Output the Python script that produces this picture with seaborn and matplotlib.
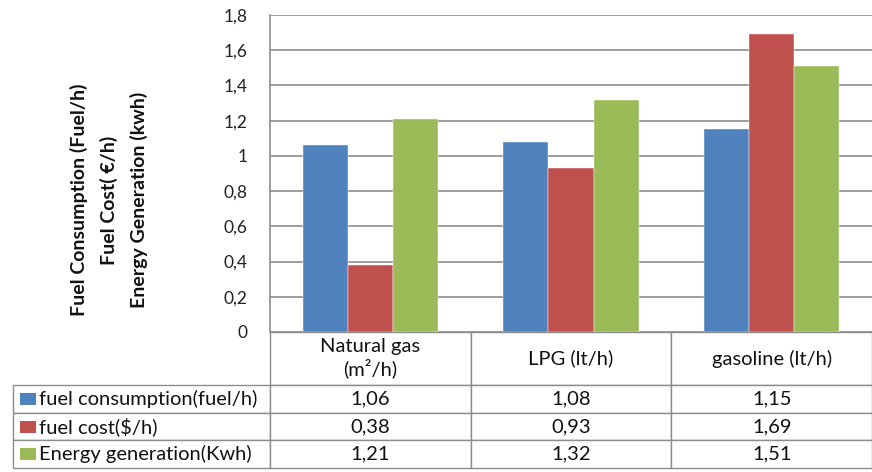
import numpy as np
import pandas as pd
import seaborn as sns
import matplotlib.pyplot as plt
from matplotlib.patches import Rectangle
from matplotlib.ticker import FuncFormatter

fuels = ['Natural gas\n(m²/h)', 'LPG (lt/h)', 'gasoline (lt/h)']
series = ['fuel consumption(fuel/h)', 'fuel cost($/h)', 'Energy generation(Kwh)']
consumption = [1.06, 1.08, 1.15]
cost = [0.38, 0.93, 1.69]
energy = [1.21, 1.32, 1.51]
colors = ['#4F81BD', '#C0504D', '#9BBB59']
yticks = [0, 0.2, 0.4, 0.6, 0.8, 1.0, 1.2, 1.4, 1.6, 1.8]

sns.set_theme(style='white')
plt.rcParams['font.family'] = ['Lato', 'DejaVu Sans']

df = pd.DataFrame({
    'fuel': fuels * 3,
    'series': np.repeat(series, 3),
    'value': consumption + cost + energy,
})

def comma(v, pos=None):
    return f'{v:g}'.replace('.', ',')

W, H = 872, 472
ax_l, ax_r, ax_t, ax_b = 270, 872, 15, 332
tab_l, tab_b = 13, 468
head_h, row_h = 53, 27.7
grid_c = '#8C8C8C'

fig = plt.figure(figsize=(W / 100, H / 100), dpi=100)
ax = fig.add_axes([ax_l / W, 1 - ax_b / H, (ax_r - ax_l) / W, (ax_b - ax_t) / H])

sns.barplot(data=df, x='fuel', y='value', hue='series', palette=colors,
            saturation=1, width=0.675, ax=ax, legend=False,
            edgecolor='white', linewidth=0.3)

ax.set_ylim(0, 1.8)
ax.set_yticks(yticks)
ax.yaxis.set_major_formatter(FuncFormatter(comma))
ax.tick_params(axis='y', labelsize=12.5, colors='#222222', length=0, pad=16)
ax.set_xticks([])
ax.set_xlabel('')
ax.set_ylabel('')
ax.grid(axis='y', color=grid_c, linewidth=1.2)
ax.set_axisbelow(True)
for side in ['top', 'right', 'bottom']:
    ax.spines[side].set_visible(False)
ax.spines['left'].set_color(grid_c)
ax.spines['left'].set_linewidth(1.2)

fig.text(109 / W, 1 - 200 / H,
         'Fuel Consumption (Fuel/h)\nFuel Cost( €/h)\nEnergy Generation (kwh)',
         rotation=90, ha='center', va='center', multialignment='center',
         fontsize=14, fontweight='bold', linespacing=1.8, color='#111111')

# data table under the plot
cell_text = [[s] + [comma(v) for v in vals]
             for s, vals in zip(series, [consumption, cost, energy])]
ax_w, ax_h = ax_r - ax_l, ax_b - ax_t
bbox = [(tab_l - ax_l) / ax_w, -(tab_b - ax_b) / ax_h,
        (ax_r - tab_l) / ax_w, (tab_b - ax_b) / ax_h]
col_w = [ax_l - tab_l] + [ax_w / 3] * 3
tab = ax.table(cellText=cell_text, colLabels=[''] + fuels, cellLoc='center',
               colWidths=col_w, bbox=bbox)
tab.auto_set_font_size(False)
for (r, c), cell in tab.get_celld().items():
    cell.set_height(head_h if r == 0 else row_h)
    cell.set_edgecolor(grid_c)
    cell.set_linewidth(1.0)
    cell.get_text().set_fontsize(14.5)
    cell.get_text().set_color('#111111')
    if r == 0 and c == 0:
        cell.visible_edges = 'open'
    if c == 0 and r > 0:
        cell.get_text().set_ha('left')

# legend keys in the row labels
for i, col in enumerate(colors):
    yc = ax_b + head_h + row_h * (i + 0.5)
    fig.patches.append(Rectangle((20 / W, 1 - (yc + 6) / H), 16 / W, 12 / H,
                                 transform=fig.transFigure, facecolor=col,
                                 edgecolor='none'))

fig.savefig('out.png', dpi=100)
